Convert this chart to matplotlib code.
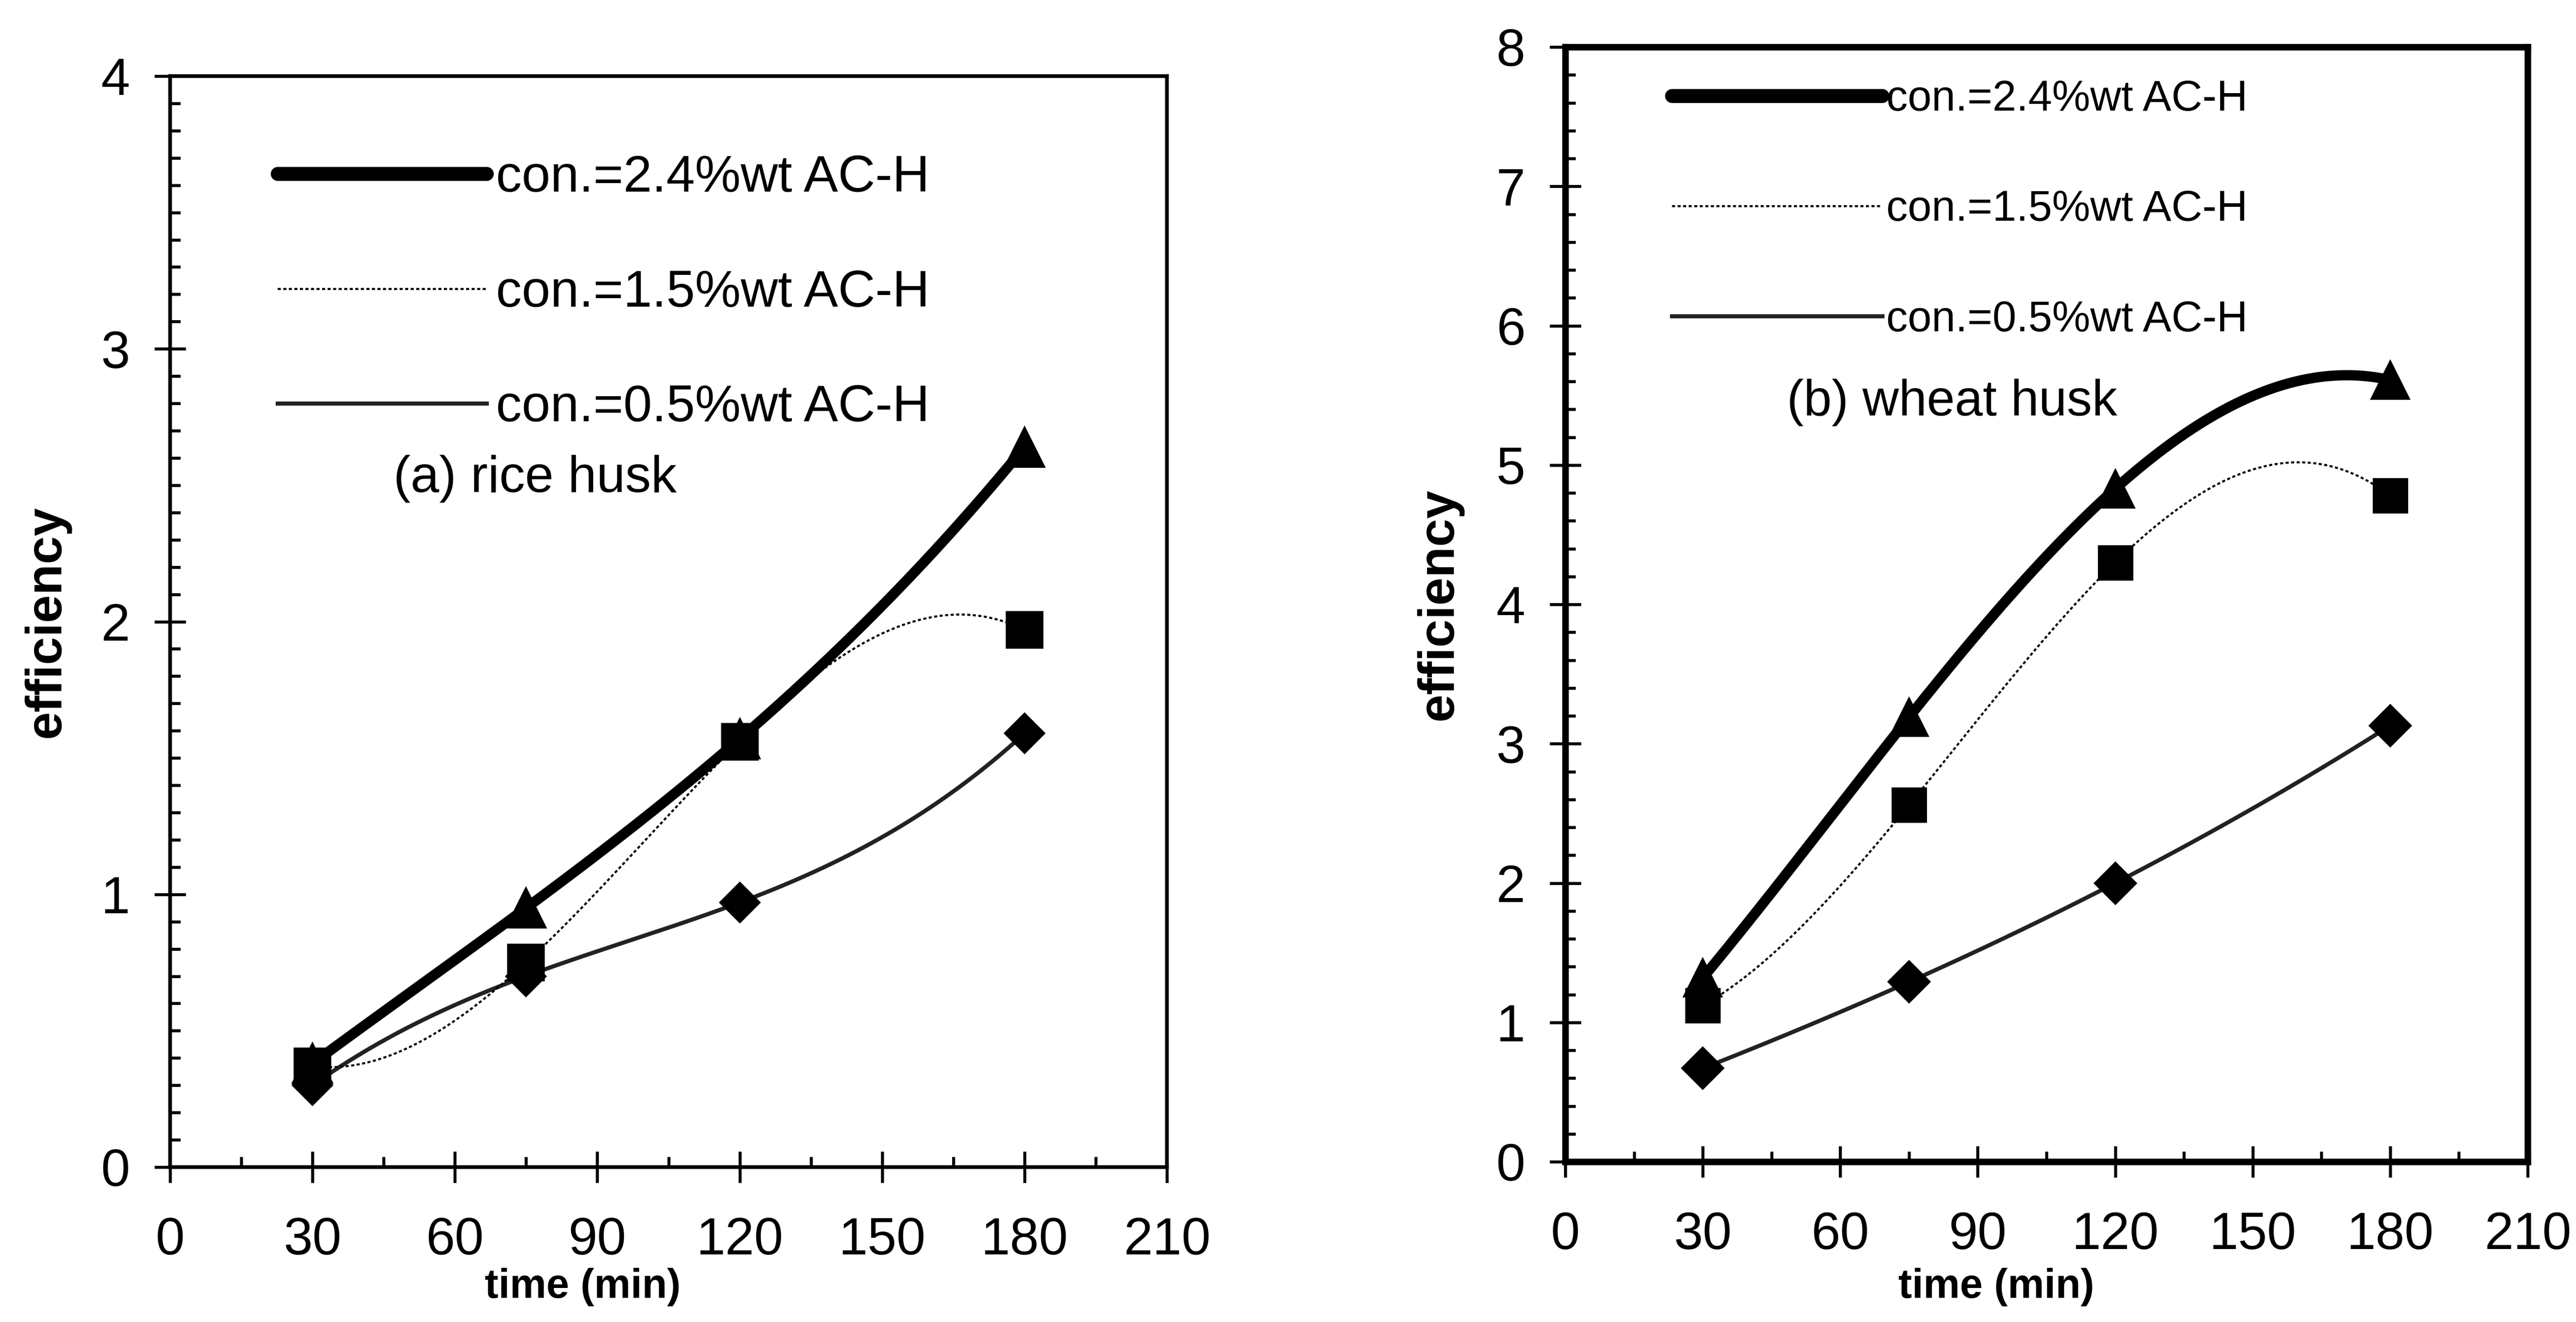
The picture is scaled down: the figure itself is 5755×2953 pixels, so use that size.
import numpy as np
import matplotlib
matplotlib.use("Agg")
import matplotlib.pyplot as plt
from matplotlib.lines import Line2D
from matplotlib.ticker import MultipleLocator

plt.rcParams['font.family'] = ['Liberation Sans', 'DejaVu Sans']

# ---------------- data ----------------
time_min = [30, 75, 120, 180]
series_labels = ["con.=2.4%wt AC-H", "con.=1.5%wt AC-H", "con.=0.5%wt AC-H"]

rice_24 = [0.38, 0.95, 1.57, 2.64]
rice_15 = [0.37, 0.75, 1.56, 1.97]
rice_05 = [0.30, 0.70, 0.97, 1.59]

wheat_24 = [1.32, 3.19, 4.83, 5.61]
wheat_15 = [1.12, 2.56, 4.30, 4.78]
wheat_05 = [0.67, 1.29, 2.00, 3.13]

x_ticks = [0, 30, 60, 90, 120, 150, 180, 210]


def smooth(x, y, n=300):
    """Smoothed connecting line (cubic through the four data points)."""
    coef = np.polyfit(x, y, len(x) - 1)
    xs = np.linspace(min(x), max(x), n)
    return xs, np.polyval(coef, xs)


W, H = 5755, 2953
DPI = 300
fig = plt.figure(figsize=(W / DPI, H / DPI), dpi=DPI)
fig.patch.set_facecolor('white')

def frac(x0, x1, ytop, ybot):
    return [x0 / W, 1 - ybot / H, (x1 - x0) / W, (ybot - ytop) / H]

axL = fig.add_axes(frac(380, 2607, 170, 2607))
axR = fig.add_axes(frac(3497, 5647, 105, 2595))

tick_fs = 28
label_fs = 27


def style_axis(ax, ymax, yminor, spine_w):
    ax.set_xlim(0, 210)
    ax.set_ylim(0, ymax)
    ax.set_xticks(x_ticks)
    ax.set_yticks(range(0, ymax + 1))
    ax.xaxis.set_minor_locator(MultipleLocator(15))
    ax.yaxis.set_minor_locator(MultipleLocator(yminor))
    ax.tick_params(axis='both', which='major', direction='inout', length=17,
                   width=1.6, labelsize=tick_fs, colors='black')
    ax.tick_params(axis='x', which='major', pad=18)
    ax.tick_params(axis='y', which='major', pad=13)
    ax.tick_params(axis='both', which='minor', direction='in', length=5.5, width=1.6)
    for s in ax.spines.values():
        s.set_linewidth(spine_w)
        s.set_color('black')
    ax.set_xlabel('time (min)', fontsize=22, fontweight='bold')
    ax.set_ylabel('efficiency', fontsize=label_fs, fontweight='bold')


def draw(ax, s24, s15, s05, ms_tri, ms_sq, ms_dia):
    xs, ys = smooth(time_min, s05)
    ax.plot(xs, ys, color='#222222', lw=2.2, solid_capstyle='round', zorder=3)
    ax.plot(time_min, s05, ls='none', marker='D', ms=ms_dia, color='black', zorder=4)
    xs, ys = smooth(time_min, s24)
    ax.plot(xs, ys, color='black', lw=5.5, solid_capstyle='round', zorder=5)
    ax.plot(time_min, s24, ls='none', marker='^', ms=ms_tri, color='black', zorder=6)
    xs, ys = smooth(time_min, s15)
    ax.plot(xs, ys, color='black', lw=1.1, ls=(0, (1.5, 1.2)), zorder=7)
    ax.plot(time_min, s15, ls='none', marker='s', ms=ms_sq, color='black', zorder=8)


style_axis(axL, 4, 0.1, 2.0)
style_axis(axR, 8, 0.2, 3.5)

draw(axL, rice_24, rice_15, rice_05, 21, 19, 15)
draw(axR, wheat_24, wheat_15, wheat_05, 20, 18, 15.5)

axL.yaxis.set_label_coords(-0.100, 0.5)
axL.xaxis.set_label_coords(0.414, -0.0923)
axR.yaxis.set_label_coords(-0.106, 0.5)
axR.xaxis.set_label_coords(0.448, -0.0952)

def handles(lw_thick):
    return [Line2D([], [], color='black', lw=lw_thick, solid_capstyle='round'),
            Line2D([], [], color='black', lw=1.1, ls=(0, (1.5, 1.2))),
            Line2D([], [], color='#222222', lw=2.2)]

legL = axL.legend(handles(7.5), series_labels, loc='upper left',
                  bbox_to_anchor=(0.1078, 0.928), borderaxespad=0, borderpad=0,
                  frameon=False, fontsize=27.6, handlelength=4.06,
                  handletextpad=0.18, labelspacing=1.3)
legR = axR.legend(handles(7.5), series_labels, loc='upper left',
                  bbox_to_anchor=(0.1107, 0.971), borderaxespad=0, borderpad=0,
                  frameon=False, fontsize=23, handlelength=4.9,
                  handletextpad=0.1, labelspacing=1.63)

axL.text(0.366, 0.631, '(a) rice husk', transform=axL.transAxes,
         fontsize=27.6, ha='center', va='center')
axR.text(0.402, 0.681, '(b) wheat husk', transform=axR.transAxes,
         fontsize=27, ha='center', va='center')

fig.savefig('out.png', dpi=DPI, facecolor='white')
